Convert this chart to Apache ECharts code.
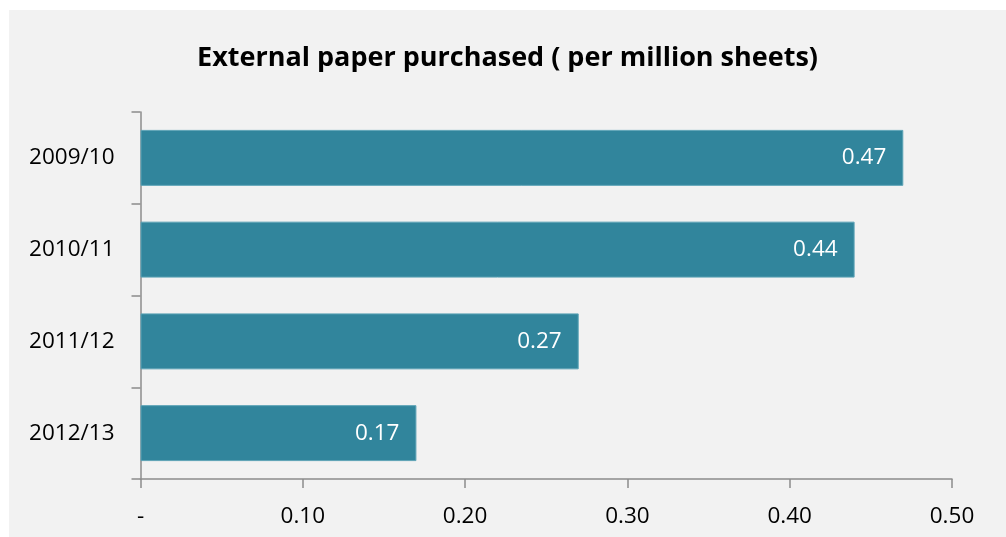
<!DOCTYPE html>
<html>
<head>
<meta charset="utf-8">
<script src="https://cdn.jsdelivr.net/npm/echarts@6/dist/echarts.min.js"></script>
<style>
  html, body { margin: 0; padding: 0; background: #ffffff; }
  #panel { position: absolute; left: 9px; top: 10px; width: 997px; height: 527px; background: #f2f2f2; }
</style>
</head>
<body>
<div id="panel"></div>
<script>
// Years of purchase, listed from top to bottom
const categories = ['2009/10', '2010/11', '2011/12', '2012/13'];
// External paper purchased, million sheets
const purchased = [0.47, 0.44, 0.27, 0.17];
// Value axis ticks
const xTicks = [0, 0.1, 0.2, 0.3, 0.4, 0.5];

const FONT = '"Open Sans", "Noto Sans", sans-serif';
const chart = echarts.init(document.getElementById('panel'), null, { renderer: 'canvas' });

chart.setOption({
  backgroundColor: 'transparent',
  animation: false,
  title: {
    text: 'External paper purchased ( per million sheets)',
    left: 'center',
    top: 30,
    textStyle: { fontFamily: FONT, fontSize: 27, fontWeight: 'bold', color: '#000000' }
  },
  grid: { left: 131.5, right: 54, top: 102, bottom: 58, containLabel: false },
  xAxis: {
    type: 'value',
    min: xTicks[0],
    max: xTicks[xTicks.length - 1],
    interval: 0.1,
    splitLine: { show: false },
    axisLine: { show: true, lineStyle: { color: '#8c8c8c', width: 1.5 } },
    axisTick: { show: true, length: 9, lineStyle: { color: '#8c8c8c', width: 1.5 } },
    axisLabel: {
      margin: 26,
      fontFamily: FONT, fontSize: 22.5, color: '#000000',
      formatter: v => (v === 0 ? '-' : v.toFixed(2))
    }
  },
  yAxis: {
    type: 'category',
    data: categories,
    inverse: true,
    axisLine: { show: true, lineStyle: { color: '#8c8c8c', width: 1.5 } },
    axisTick: { show: true, length: 9, lineStyle: { color: '#8c8c8c', width: 1.5 } },
    axisLabel: { margin: 26, fontFamily: FONT, fontSize: 22.5, color: '#000000' }
  },
  series: [{
    type: 'bar',
    data: purchased,
    barWidth: '61%',
    itemStyle: { color: '#31859c', borderColor: '#5da3b6', borderWidth: 1 },
    label: {
      show: true,
      position: 'insideRight',
      distance: 17,
      fontFamily: FONT, fontSize: 22.5, color: '#ffffff',
      formatter: p => p.value.toFixed(2)
    }
  }]
});
</script>
</body>
</html>
